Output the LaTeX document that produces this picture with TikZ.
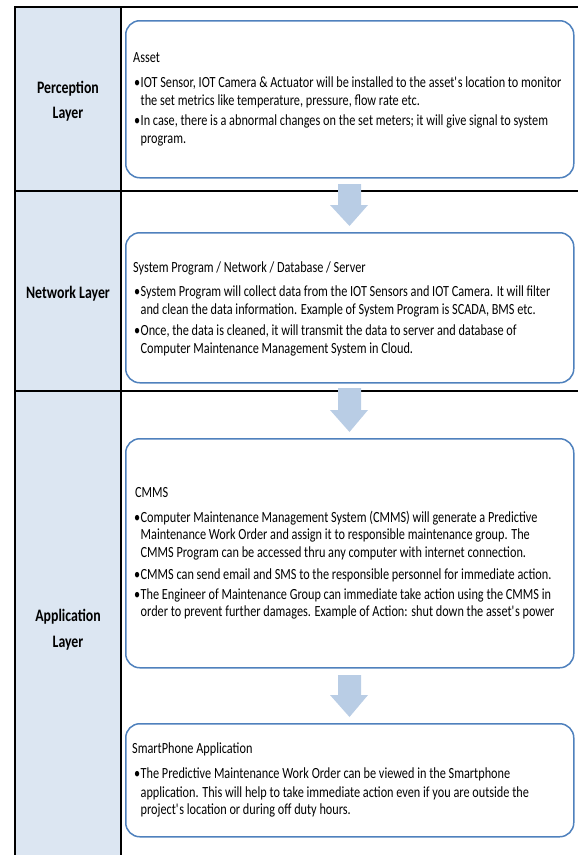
\documentclass[tikz,border=0pt]{standalone}
\usepackage{fontspec}
\setmainfont{Carlito}[FakeStretch=0.79]
\definecolor{colfill}{HTML}{DCE6F2}
\definecolor{boxblue}{HTML}{4F81BD}
\definecolor{arrowblue}{HTML}{B9CDE5}
\newcommand{\bul}{\makebox[6.5bp][l]{•}}
\newcommand{\apos}{\textquotesingle}
\tikzset{
  box/.style={draw=boxblue, line width=1.5bp, rounded corners=14bp, fill=white, anchor=north west, inner sep=0pt},
  txt/.style={anchor=base west, inner sep=0pt, font=\fontsize{15.5bp}{18bp}\selectfont, text=black},
  lbl/.style={anchor=base, inner sep=0pt, font=\fontsize{17.5bp}{21bp}\selectfont\bfseries, text=black},
  blk/.style={fill=arrowblue, draw=none},
  hline/.style={line width=2bp, black},
  vline/.style={line width=1.7bp, black}
}
\begin{document}
\begin{tikzpicture}[x=1bp,y=-1bp]
\useasboundingbox (0,0) rectangle (578,855);
% table
\fill[colfill] (15,7) rectangle (121,855);
\draw[hline] (14,7) -- (578,7);
\draw[hline] (14,191) -- (578,191);
\draw[hline] (14,391) -- (578,391);
\draw[vline] (15,6) -- (15,855);
\draw[vline] (121,6) -- (121,855);
% boxes
\node[box, minimum width=448bp, minimum height=157bp] (b1) at (125,20) {};
\node[box, minimum width=448bp, minimum height=150bp] (b2) at (125,232) {};
\node[box, minimum width=448bp, minimum height=229bp] (b3) at (125,438) {};
\node[box, minimum width=448bp, minimum height=113bp] (b4) at (125,723) {};
% block arrows
\fill[blk] (338,184) -- (361,184) -- (361,205) -- (368,205) -- (349.5,226) -- (330,205) -- (338,205) -- cycle;
\fill[blk] (338,388) -- (361,388) -- (361,410) -- (368,410) -- (349.5,432) -- (330,410) -- (338,410) -- cycle;
\fill[blk] (338,675) -- (361,675) -- (361,695) -- (368,695) -- (349.5,717) -- (330,695) -- (338,695) -- cycle;
% layer labels
\node[lbl] (p1) at (68,93) {Perception};
\node[lbl] (p2) at (68,118) {Layer};
\node[lbl] (n1) at (68,298) {Network Layer};
\node[lbl] (a1) at (68,621) {Application};
\node[lbl] (a2) at (68,647) {Layer};
% box 1 text
\node[txt] (t11) at (133,62) {Asset};
\node[txt] (t12) at (134,87) {\bul IOT Sensor, IOT Camera \& Actuator will be installed to the asset\apos s location to monitor};
\node[txt] (t13) at (140.5,105) {the set metrics like temperature, pressure, flow rate etc.};
\node[txt] (t14) at (134,125) {\bul In case, there is a abnormal changes on the set meters; it will give signal to system};
\node[txt] (t15) at (140.5,143) {program.};
% box 2 text
\node[txt] (t21) at (133,272) {System Program / Network / Database / Server};
\node[txt] (t22) at (134,296) {\bul System Program will collect data from the IOT Sensors and IOT Camera. It will filter};
\node[txt] (t23) at (140.5,314) {and clean the data information. Example of System Program is SCADA, BMS etc.};
\node[txt] (t24) at (134,335) {\bul Once, the data is cleaned, it will transmit the data to server and database of};
\node[txt] (t25) at (140.5,353) {Computer Maintenance Management System in Cloud.};
% box 3 text
\node[txt] (t31) at (135,497) {CMMS};
\node[txt] (t32) at (134,522) {\bul Computer Maintenance Management System (CMMS) will generate a Predictive};
\node[txt] (t33) at (140.5,539) {Maintenance Work Order and assign it to responsible maintenance group. The};
\node[txt] (t34) at (140.5,557) {CMMS Program can be accessed thru any computer with internet connection.};
\node[txt] (t35) at (134,579) {\bul CMMS can send email and SMS to the responsible personnel for immediate action.};
\node[txt] (t36) at (134,599) {\bul The Engineer of Maintenance Group can immediate take action using the CMMS in};
\node[txt] (t37) at (140.5,616) {order to prevent further damages. Example of Action: shut down the asset\apos s power};
% box 4 text
\node[txt] (t41) at (132,753) {SmartPhone Application};
\node[txt] (t42) at (134,778) {\bul The Predictive Maintenance Work Order can be viewed in the Smartphone};
\node[txt] (t43) at (140.5,797) {application. This will help to take immediate action even if you are outside the};
\node[txt] (t44) at (140.5,814) {project\apos s location or during off duty hours.};
\end{tikzpicture}
\end{document}
